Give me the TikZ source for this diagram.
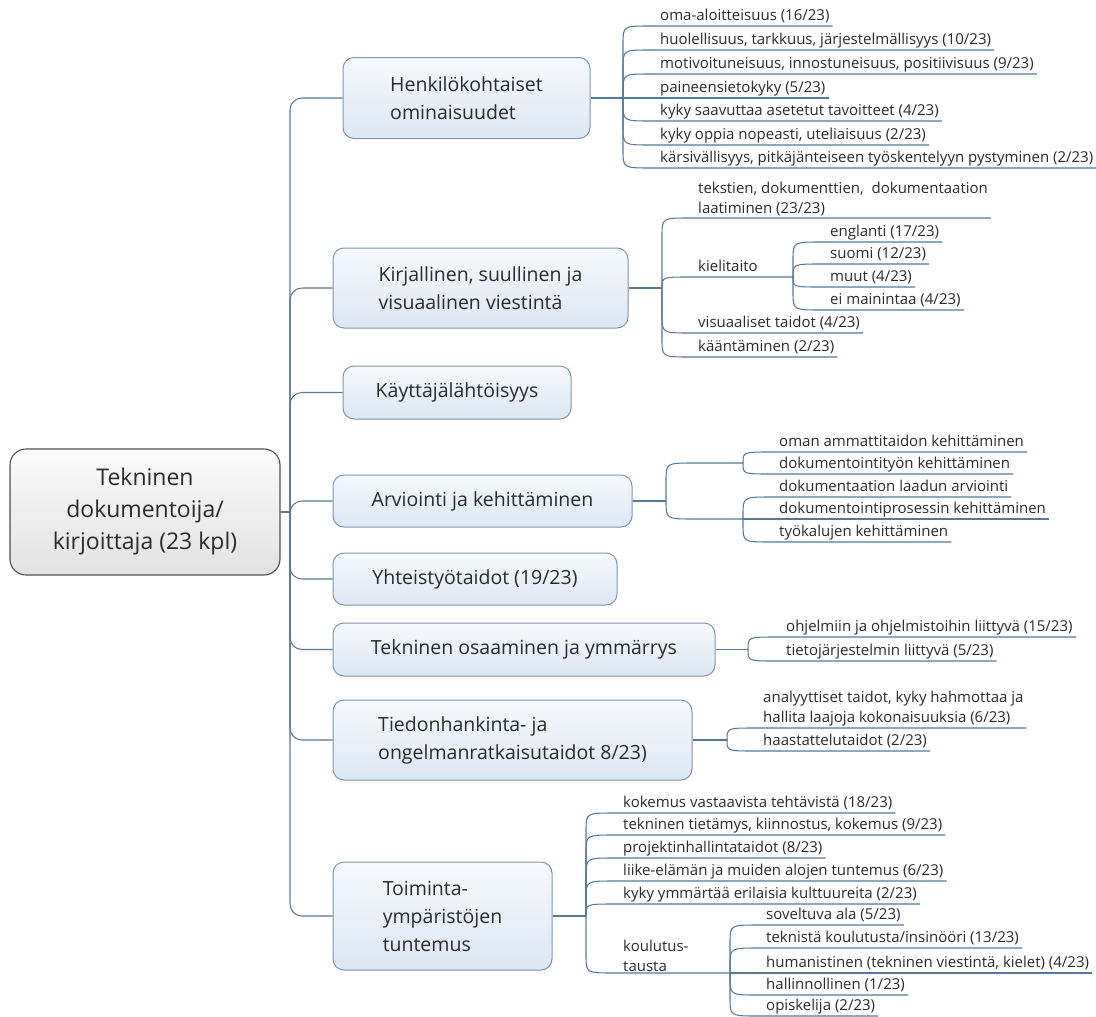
\documentclass[tikz,border=0pt]{standalone}
\usepackage{fontspec}
\setmainfont{Open Sans}
\usetikzlibrary{calc}
\definecolor{cncol}{HTML}{56789A}
\definecolor{txt}{HTML}{2B2B2B}
\definecolor{mainborder}{HTML}{7E96AE}
\definecolor{maintop}{HTML}{F6F9FD}
\definecolor{mainbot}{HTML}{DCE7F3}
\definecolor{rootborder}{HTML}{4F4F4F}
\definecolor{roottop}{HTML}{FBFBFB}
\definecolor{rootbot}{HTML}{E2E2E2}
\newcommand\leaffont{\fontsize{15}{20}\selectfont}
\newcommand\lnk[3]{\draw[cn] (#1) -- ($(#1 |- #2.south west)+(0,#3)$) .. controls (#1 |- #2.south west) .. ($(#1 |- #2.south west)+(28,0)$) -- (#2.south east);}
\newcommand\lnkto[4]{\draw[cn] (#1) -- ($(#1 |- #2.south west)+(0,#3)$) .. controls (#1 |- #2.south west) .. ($(#1 |- #2.south west)+(28,0)$) -- (#4);}
\begin{document}
\begin{tikzpicture}[x=1pt,y=-1pt,
  cn/.style={draw=cncol, line width=1.05pt},
  rootbox/.style={draw=rootborder, line width=1.1pt, rounded corners=16pt, top color=roottop, bottom color=rootbot, text=txt, align=center, font=\fontsize{23}{32}\selectfont},
  mainbox/.style={draw=mainborder, line width=1pt, rounded corners=11pt, top color=maintop, bottom color=mainbot, text=txt, align=left, font=\fontsize{19.5}{28}\selectfont},
  leaf/.style={anchor=south west, inner xsep=3pt, inner ysep=5pt, text height=11pt, text depth=0pt, font=\leaffont, text=txt},
  leafm/.style={anchor=south west, inner xsep=3pt, inner ysep=1.5pt, align=left, font=\leaffont, text=txt}]
\useasboundingbox (0,0) rectangle (1096,1017);
\fill[white] (0,0) rectangle (1096,1017);

% root and main topics
\node[rootbox, minimum width=270pt, minimum height=126pt] (root) at (145,512) {Tekninen\\dokumentoija/\\kirjoittaja (23 kpl)};
\coordinate (tj) at (290,512);

\node[mainbox, minimum width=247pt, minimum height=81pt] (hen) at (466.5,98) {Henkilökohtaiset\\ominaisuudet};
\node[mainbox, minimum width=295pt, minimum height=80pt] (kir) at (480.5,288) {Kirjallinen, suullinen ja\\visuaalinen viestintä};
\node[mainbox, minimum width=228pt, minimum height=53pt] (kay) at (457,392.5) {Käyttäjälähtöisyys};
\node[mainbox, minimum width=299pt, minimum height=52pt] (arv) at (482.5,501) {Arviointi ja kehittäminen};
\node[mainbox, minimum width=284pt, minimum height=52pt] (yht) at (475,579) {Yhteistyötaidot (19/23)};
\node[mainbox, minimum width=382pt, minimum height=53pt] (tek) at (524,649.5) {Tekninen osaaminen ja ymmärrys};
\node[mainbox, minimum width=359pt, minimum height=80pt] (tie) at (512.5,740) {Tiedonhankinta- ja\\ongelmanratkaisutaidot 8/23)};
\node[mainbox, minimum width=219pt, minimum height=108pt] (toi) at (442.5,916) {Toiminta-\\ympäristöjen\\tuntemus};

\draw[cn] (root.east) -- (tj);
\foreach \m in {hen,kir,kay,arv,yht,tek,tie,toi}{
  \draw[cn, rounded corners=12pt] (tj) |- (\m.west);
}

% Henkilokohtaiset
\coordinate (hj) at (623,98);
\draw[cn] (hen.east) -- (hj);
\node[leaf] (h1) at (657,26) {oma-aloitteisuus (16/23)};
\node[leaf] (h2) at (657,50) {huolellisuus, tarkkuus, järjestelmällisyys (10/23)};
\node[leaf] (h3) at (657,74) {motivoituneisuus, innostuneisuus, positiivisuus (9/23)};
\node[leaf] (h4) at (657,98) {paineensietokyky (5/23)};
\node[leaf] (h5) at (657,121) {kyky saavuttaa asetetut tavoitteet (4/23)};
\node[leaf] (h6) at (657,145) {kyky oppia nopeasti, uteliaisuus (2/23)};
\node[leaf] (h7) at (657,168) {kärsivällisyys, pitkäjänteiseen työskentelyyn pystyminen (2/23)};
\lnk{hj}{h1}{18}\lnk{hj}{h2}{18}\lnk{hj}{h3}{18}\lnk{hj}{h4}{0}
\lnk{hj}{h5}{-18}\lnk{hj}{h6}{-18}\lnk{hj}{h7}{-18}

% Kirjallinen
\coordinate (kj0) at (662,288);
\draw[cn] (kir.east) -- (kj0);
\node[leafm] (k1) at (695,218) {tekstien, dokumenttien,~ dokumentaation\\laatiminen (23/23)};
\node[leaf] (k2) at (695,277) {kielitaito};
\node[leaf] (k3) at (695,333) {visuaaliset taidot (4/23)};
\node[leaf] (k4) at (695,357) {kääntäminen (2/23)};
\coordinate (kj) at (793,277);
\lnk{kj0}{k1}{18}\lnkto{kj0}{k2}{11}{kj}\lnk{kj0}{k3}{-18}\lnk{kj0}{k4}{-18}
\node[leaf] (e1) at (827,242) {englanti (17/23)};
\node[leaf] (e2) at (827,264) {suomi (12/23)};
\node[leaf] (e3) at (827,287) {muut (4/23)};
\node[leaf] (e4) at (827,310) {ei mainintaa (4/23)};
\lnk{kj}{e1}{18}\lnk{kj}{e2}{13}\lnk{kj}{e3}{-10}\lnk{kj}{e4}{-18}

% Arviointi
\coordinate (aj) at (666,501);
\draw[cn] (arv.east) -- (aj);
\coordinate (a1) at (743,463);
\coordinate (a2) at (743,519);
\lnk{aj}{a1}{18}\lnk{aj}{a2}{-18}
\node[leaf] (r1) at (776,452) {oman ammattitaidon kehittäminen};
\node[leaf] (r2) at (776,474) {dokumentointityön kehittäminen};
\node[leaf] (r3) at (776,497) {dokumentaation laadun arviointi};
\node[leaf] (r4) at (776,519) {dokumentointiprosessin kehittäminen};
\node[leaf] (r5) at (776,542) {työkalujen kehittäminen};
\lnk{a1}{r1}{11}\lnk{a1}{r2}{-11}
\lnk{a2}{r3}{18}\lnk{a2}{r4}{0}\lnk{a2}{r5}{-18}

% Tekninen osaaminen
\coordinate (tj2) at (748,649.5);
\draw[cn] (tek.east) -- (tj2);
\node[leaf] (t1) at (783,637) {ohjelmiin ja ohjelmistoihin liittyvä (15/23)};
\node[leaf] (t2) at (783,661) {tietojärjestelmin liittyvä (5/23)};
\lnk{tj2}{t1}{12.5}\lnk{tj2}{t2}{-11.5}

% Tiedonhankinta
\coordinate (ij) at (727,740);
\draw[cn] (tie.east) -- (ij);
\node[leafm] (i1) at (760,728) {analyyttiset taidot, kyky hahmottaa ja\\hallita laajoja kokonaisuuksia (6/23)};
\node[leaf] (i2) at (760,751) {haastattelutaidot (2/23)};
\lnk{ij}{i1}{12}\lnk{ij}{i2}{-11}

% Toimintaymparistot
\coordinate (oj) at (586,916);
\draw[cn] (toi.east) -- (oj);
\node[leaf] (o1) at (620,813) {kokemus vastaavista tehtävistä (18/23)};
\node[leaf] (o2) at (620,835) {tekninen tietämys, kiinnostus, kokemus (9/23)};
\node[leaf] (o3) at (620,858) {projektinhallintataidot (8/23)};
\node[leaf] (o4) at (620,881) {liike-elämän ja muiden alojen tuntemus (6/23)};
\node[leaf] (o5) at (620,904) {kyky ymmärtää erilaisia kulttuureita (2/23)};
\node[leafm] (o6) at (620,973) {koulutus-\\tausta};
\coordinate (kj2) at (730,973);
\lnk{oj}{o1}{18}\lnk{oj}{o2}{18}\lnk{oj}{o3}{18}\lnk{oj}{o4}{18}\lnk{oj}{o5}{12}
\lnkto{oj}{o6}{-18}{kj2}
\node[leaf] (s1) at (763,925) {soveltuva ala (5/23)};
\node[leaf] (s2) at (763,948) {teknistä koulutusta/insinööri (13/23)};
\node[leaf] (s3) at (763,973) {humanistinen (tekninen viestintä, kielet) (4/23)};
\node[leaf] (s4) at (763,995) {hallinnollinen (1/23)};
\node[leaf] (s5) at (763,1016) {opiskelija (2/23)};
\lnk{kj2}{s1}{18}\lnk{kj2}{s2}{18}\lnk{kj2}{s3}{0}\lnk{kj2}{s4}{-18}\lnk{kj2}{s5}{-18}
\end{tikzpicture}
\end{document}
